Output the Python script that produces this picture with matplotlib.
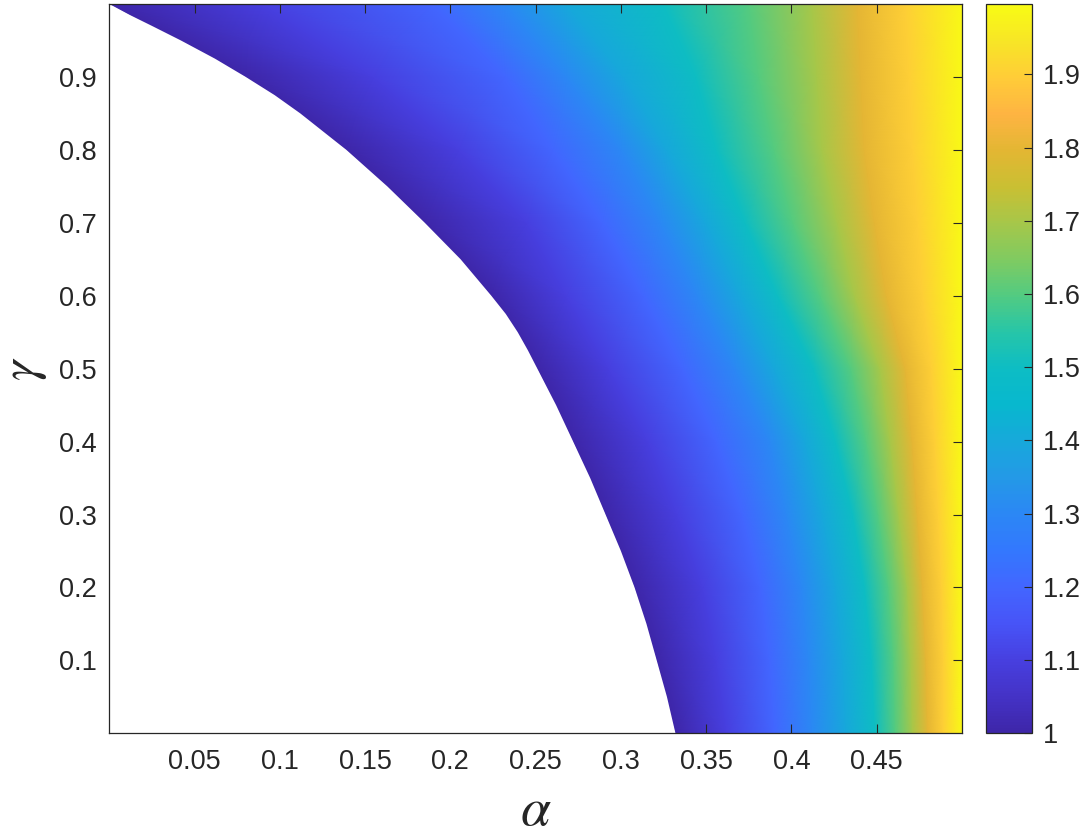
import numpy as np
import matplotlib
matplotlib.use("Agg")
import matplotlib.pyplot as plt
from matplotlib.colors import LinearSegmentedColormap

plt.rcParams['font.family'] = ['Liberation Sans', 'DejaVu Sans']
plt.rcParams['mathtext.fontset'] = 'stix'

# ---- data ----
gamma_rows = [0.0, 0.1, 0.2, 0.3, 0.4, 0.5, 0.6, 0.7, 0.8, 0.9, 1.0]
levels = [1.0, 1.1, 1.2, 1.3, 1.4, 1.5, 1.6, 1.7, 1.8, 1.9]
# alpha position of each colour level along the gamma rows above
alpha_lvl_10 = [0.332, 0.321, 0.308, 0.291, 0.272, 0.251, 0.224, 0.185, 0.139, 0.080, 0.000]
alpha_lvl_11 = [0.362, 0.356, 0.348, 0.333, 0.316, 0.293, 0.268, 0.245, 0.205, 0.155, 0.090]
alpha_lvl_12 = [0.390, 0.387, 0.382, 0.371, 0.356, 0.336, 0.313, 0.289, 0.260, 0.232, 0.190]
alpha_lvl_13 = [0.412, 0.410, 0.406, 0.397, 0.387, 0.367, 0.345, 0.323, 0.300, 0.268, 0.232]
alpha_lvl_14 = [0.432, 0.430, 0.426, 0.418, 0.408, 0.390, 0.370, 0.350, 0.327, 0.302, 0.268]
alpha_lvl_15 = [0.449, 0.447, 0.443, 0.436, 0.426, 0.413, 0.392, 0.373, 0.356, 0.344, 0.325]
alpha_lvl_16 = [0.461, 0.460, 0.457, 0.451, 0.444, 0.435, 0.417, 0.401, 0.390, 0.381, 0.375]
alpha_lvl_17 = [0.471, 0.470, 0.468, 0.463, 0.458, 0.452, 0.437, 0.427, 0.418, 0.415, 0.412]
alpha_lvl_18 = [0.480, 0.479, 0.477, 0.474, 0.471, 0.467, 0.456, 0.449, 0.443, 0.441, 0.439]
alpha_lvl_19 = [0.489, 0.489, 0.488, 0.486, 0.484, 0.482, 0.477, 0.474, 0.471, 0.469, 0.467]
alpha_max = 0.5
value_at_alpha_max = 1.99

# boundary of the empty (white) region
boundary_gamma = [0.0, 0.05, 0.1, 0.15, 0.2, 0.25, 0.3, 0.35, 0.4, 0.45, 0.5, 0.525, 0.55,
                  0.575, 0.6, 0.65, 0.7, 0.75, 0.8, 0.85, 0.875, 0.9, 0.925, 0.95, 0.97,
                  0.985, 1.0]
boundary_alpha = [0.332, 0.327, 0.321, 0.315, 0.308, 0.300, 0.291, 0.282, 0.272, 0.262, 0.251, 0.2455, 0.2395,
                  0.2325, 0.224, 0.206, 0.185, 0.163, 0.139, 0.112, 0.097, 0.080, 0.062, 0.042, 0.025,
                  0.012, 0.0]

x_ticks = [0.05, 0.1, 0.15, 0.2, 0.25, 0.3, 0.35, 0.4, 0.45]
x_ticklabels = ['0.05', '0.1', '0.15', '0.2', '0.25', '0.3', '0.35', '0.4', '0.45']
y_ticks = [0.1, 0.2, 0.3, 0.4, 0.5, 0.6, 0.7, 0.8, 0.9]
y_ticklabels = ['0.1', '0.2', '0.3', '0.4', '0.5', '0.6', '0.7', '0.8', '0.9']
cb_ticks = [1.0, 1.1, 1.2, 1.3, 1.4, 1.5, 1.6, 1.7, 1.8, 1.9]
cb_ticklabels = ['1', '1.1', '1.2', '1.3', '1.4', '1.5', '1.6', '1.7', '1.8', '1.9']
vmin, vmax = 1.0, 1.996

# parula-like colour anchors
cmap_pos = [0.00, 0.05, 0.10, 0.15, 0.20, 0.25, 0.30, 0.35, 0.40, 0.45, 0.50,
            0.55, 0.60, 0.65, 0.70, 0.75, 0.80, 0.85, 0.90, 0.95, 1.00]
cmap_rgb = [(0.243, 0.150, 0.660), (0.268, 0.200, 0.780), (0.278, 0.250, 0.880),
            (0.280, 0.330, 0.970), (0.260, 0.400, 1.000), (0.200, 0.470, 0.995),
            (0.170, 0.530, 0.960), (0.140, 0.600, 0.905), (0.090, 0.660, 0.860),
            (0.030, 0.720, 0.810), (0.050, 0.740, 0.770), (0.150, 0.775, 0.660),
            (0.320, 0.795, 0.510), (0.500, 0.795, 0.380), (0.650, 0.780, 0.290),
            (0.790, 0.750, 0.200), (0.890, 0.715, 0.200), (0.995, 0.705, 0.260),
            (1.000, 0.800, 0.220), (0.970, 0.900, 0.150), (0.975, 0.985, 0.080)]

# ---- build ----
cmap = LinearSegmentedColormap.from_list('parula_like', list(zip(cmap_pos, cmap_rgb)), N=256)

level_cols = [alpha_lvl_10, alpha_lvl_11, alpha_lvl_12, alpha_lvl_13, alpha_lvl_14,
              alpha_lvl_15, alpha_lvl_16, alpha_lvl_17, alpha_lvl_18, alpha_lvl_19]
X = np.column_stack(level_cols + [[alpha_max] * len(gamma_rows)])
Y = np.column_stack([gamma_rows] * (len(levels) + 1))
C = np.array([levels + [value_at_alpha_max] for _ in gamma_rows])

fig = plt.figure(figsize=(10.8, 8.35), dpi=100)
ax = fig.add_axes([0.1012, 0.1218, 0.7895, 0.8734])
cax = fig.add_axes([0.9125, 0.1218, 0.0426, 0.8734])

mesh = ax.pcolormesh(X, Y, C, shading='gouraud', cmap=cmap, vmin=vmin, vmax=vmax,
                     rasterized=True)
poly_a = [0.0] + boundary_alpha + [0.0]
poly_g = [0.0] + boundary_gamma + [1.0]
ax.fill(poly_a, poly_g, color='white', lw=0, zorder=3)

ax.set_xlim(0, 0.5)
ax.set_ylim(0, 1.0)
ax.set_xticks(x_ticks)
ax.set_xticklabels(x_ticklabels)
ax.set_yticks(y_ticks)
ax.set_yticklabels(y_ticklabels)
dark = (0.15, 0.15, 0.15)
ax.tick_params(direction='in', length=6.5, width=0.8, color=dark, labelcolor=dark,
               labelsize=19.5, top=True, right=True)
ax.tick_params(axis='x', pad=11)
ax.tick_params(axis='y', pad=9)
for s in ax.spines.values():
    s.set_color(dark)
    s.set_linewidth(0.9)
    s.set_zorder(5)
ax.set_xlabel(r'$\alpha$', fontsize=39, color=dark)
ax.xaxis.set_label_coords(0.5, -0.072)
ax.set_ylabel(r'$\gamma$', fontsize=37, color=dark)
ax.yaxis.set_label_coords(-0.071, 0.5)

cb = fig.colorbar(mesh, cax=cax)
cb.set_ticks(cb_ticks)
cb.set_ticklabels(cb_ticklabels)
cax.tick_params(direction='in', length=5.5, width=0.8, color=dark, labelcolor=dark,
                labelsize=19.5, pad=8)
cb.outline.set_edgecolor(dark)
cb.outline.set_linewidth(0.9)

fig.savefig('out.png', dpi=100)
